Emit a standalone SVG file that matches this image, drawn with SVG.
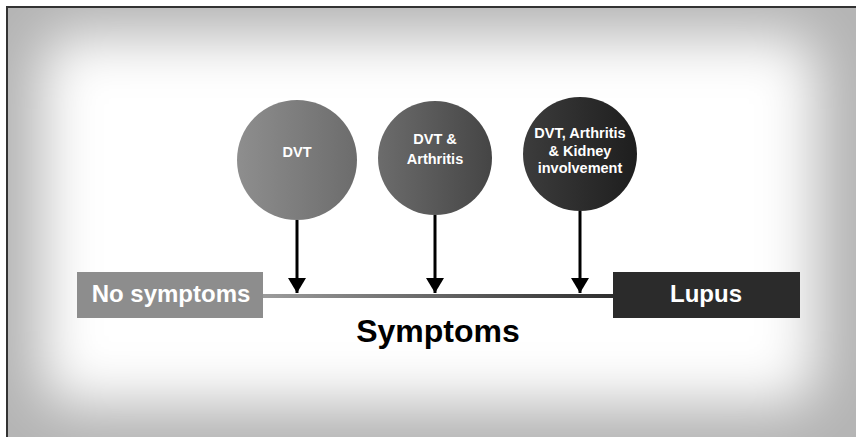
<svg xmlns="http://www.w3.org/2000/svg" width="856" height="437" viewBox="0 0 856 437">
  <defs>
    <filter id="soft" x="-20%" y="-30%" width="140%" height="160%">
      <feGaussianBlur stdDeviation="28"/>
    </filter>
    <linearGradient id="g1" x1="0" y1="0" x2="1" y2="0">
      <stop offset="0" stop-color="#8e8e8e"/>
      <stop offset="1" stop-color="#6c6c6c"/>
    </linearGradient>
    <linearGradient id="g2" x1="0" y1="0" x2="1" y2="0">
      <stop offset="0" stop-color="#6c6c6c"/>
      <stop offset="1" stop-color="#454545"/>
    </linearGradient>
    <linearGradient id="g3" x1="0" y1="0" x2="1" y2="0">
      <stop offset="0" stop-color="#3c3c3c"/>
      <stop offset="1" stop-color="#1e1e1e"/>
    </linearGradient>
    <linearGradient id="gl" x1="0" y1="0" x2="1" y2="0">
      <stop offset="0" stop-color="#9c9c9c"/>
      <stop offset="1" stop-color="#2e2e2e"/>
    </linearGradient>
    <marker id="ah" markerWidth="5" markerHeight="6" refX="5" refY="3" orient="auto" markerUnits="strokeWidth">
      <path d="M0,0 L5,3 L0,6 Z" fill="#000"/>
    </marker>
  </defs>
  <style>
    text { font-family: "Liberation Sans", Arial, sans-serif; font-weight: bold; text-anchor: middle; }
    .ct { fill: #ffffff; font-size: 14.5px; }
    .bt { fill: #ffffff; font-size: 24px; }
    .conn { stroke: #000; stroke-width: 3; fill: none; marker-end: url(#ah); }
  </style>
  <rect x="0" y="0" width="856" height="437" fill="#ffffff"/>
  <rect x="7" y="7" width="849" height="430" fill="#b4b4b4"/>
  <rect x="42" y="36" width="774" height="368" rx="30" fill="#ffffff" filter="url(#soft)"/>
  <path d="M7,437 L7,7 L856,7" fill="none" stroke="#333" stroke-width="2"/>

  <g id="timeline">
    <rect x="263" y="294" width="350" height="4" fill="url(#gl)"/>
  </g>

  <g id="connectors">
    <line class="conn" x1="297" y1="220" x2="297" y2="293"/>
    <line class="conn" x1="435" y1="215" x2="435" y2="293"/>
    <line class="conn" x1="580" y1="211" x2="580" y2="293"/>
  </g>

  <g id="node-dvt">
    <circle cx="297" cy="160" r="60" fill="url(#g1)"/>
    <text class="ct" x="297" y="157">DVT</text>
  </g>
  <g id="node-dvt-arthritis">
    <circle cx="435" cy="158" r="57" fill="url(#g2)"/>
    <text class="ct" x="435" y="144">DVT &amp;</text>
    <text class="ct" x="435" y="164">Arthritis</text>
  </g>
  <g id="node-dvt-arthritis-kidney">
    <circle cx="580" cy="154" r="57" fill="url(#g3)"/>
    <text class="ct" x="580" y="138">DVT, Arthritis</text>
    <text class="ct" x="580" y="156">&amp; Kidney</text>
    <text class="ct" x="580" y="173">involvement</text>
  </g>

  <g id="node-no-symptoms">
    <rect x="77" y="272" width="186" height="46" fill="#8d8d8d"/>
    <text class="bt" x="171" y="302">No symptoms</text>
  </g>
  <g id="node-lupus">
    <rect x="613" y="272" width="187" height="46" fill="#2b2b2b"/>
    <text class="bt" x="706" y="302">Lupus</text>
  </g>

  <g id="label-symptoms">
    <text x="438" y="342" font-size="32" fill="#000">Symptoms</text>
  </g>
</svg>
